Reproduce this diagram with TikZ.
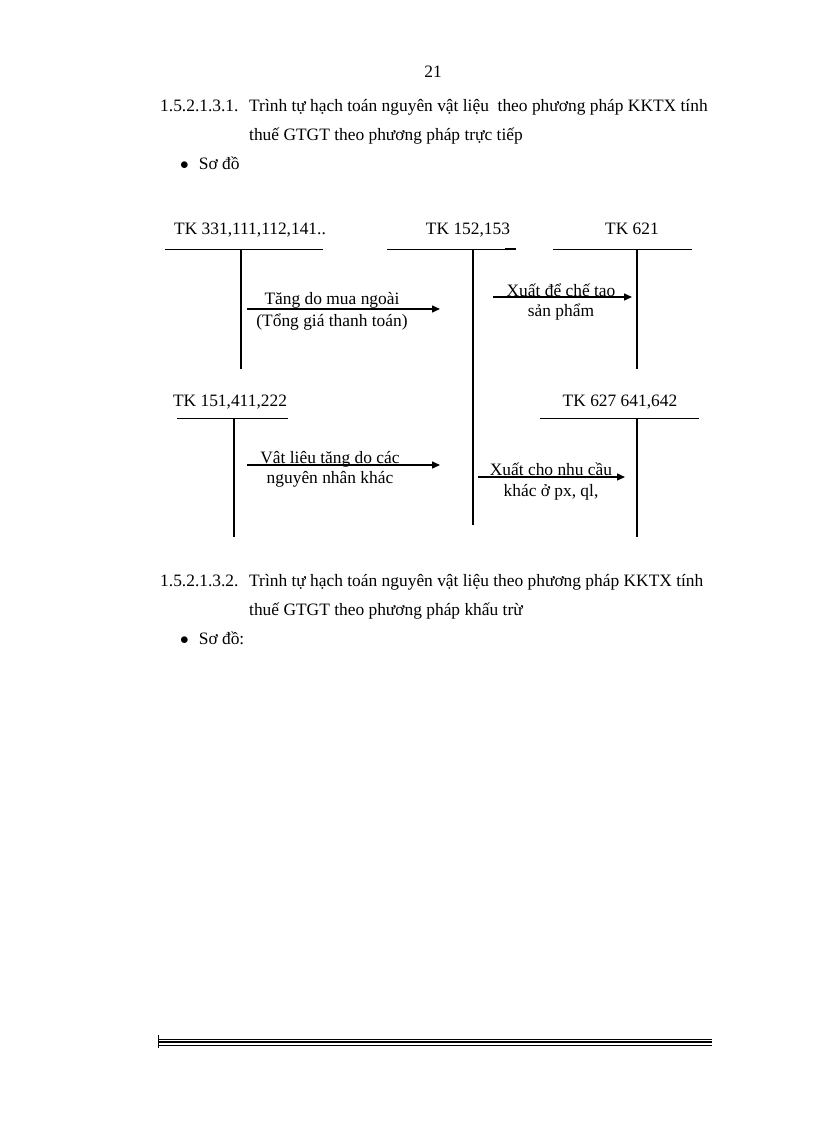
\documentclass[tikz,border=0pt]{standalone}
\usepackage{fontspec}
\setmainfont{Liberation Serif}
\usetikzlibrary{arrows.meta}
\begin{document}
\begin{tikzpicture}[x=1pt,y=-1pt,
  txt/.style={inner sep=0pt,yshift=-4pt,font=\fontsize{17.4}{20}\selectfont},
  acc/.style={line width=0.6pt},
  post/.style={line width=1.4pt},
  arr/.style={line width=1.4pt,-{Triangle[length=8pt,width=7pt]}},
  lbl/.style={txt,align=center,anchor=mid}]
\useasboundingbox (0,0) rectangle (816,1123);
\node[txt,anchor=mid] (pg) at (433,71) {21};
\node[txt,anchor=mid west] (h1n) at (160,105) {1.5.2.1.3.1.};
\node[txt,anchor=mid west] (h1a) at (249,105) {Trình tự hạch toán nguyên vật liệu\ \ theo phương pháp KKTX tính};
\node[txt,anchor=mid west] (h1b) at (249,134) {thuế GTGT theo phương pháp trực tiếp};
\node[txt,anchor=mid west] (b1) at (180,163) {$\bullet$\hspace{10pt}Sơ đồ};
% T accounts
\node[lbl] (l331) at (250,228) {TK 331,111,112,141..};
\draw[acc] (165,249) -- (323,249);
\coordinate (v331t) at (241,249); \coordinate (v331b) at (241,369);
\draw[post] (v331t) -- (v331b);
\node[lbl] (l152) at (468,228) {TK 152,153};
\draw[acc] (387,249) -- (516,249);
\draw[line width=1.2pt] (505,249) -- (516,249);
\coordinate (v152t) at (473,249); \coordinate (v152b) at (473,525);
\draw[post] (v152t) -- (v152b);
\node[lbl] (l621) at (632,228) {TK 621};
\draw[acc] (553,249) -- (692,249);
\coordinate (v621t) at (637,249); \coordinate (v621b) at (637,369);
\draw[post] (v621t) -- (v621b);
\node[lbl] (l151) at (230,400) {TK 151,411,222};
\draw[acc] (177,418) -- (288,418);
\coordinate (v151t) at (234,418); \coordinate (v151b) at (234,537);
\draw[post] (v151t) -- (v151b);
\node[lbl] (l627) at (620,400) {TK 627 641,642};
\draw[acc] (540,418) -- (699,418);
\coordinate (v627t) at (637,418); \coordinate (v627b) at (637,537);
\draw[post] (v627t) -- (v627b);
% arrows
\coordinate (a1s) at (247,309); \coordinate (a1e) at (440,309);
\draw[arr] (a1s) -- (a1e);
\node[lbl] (t1a) at (332,298) {Tăng do mua ngoài};
\node[lbl] (t1b) at (332,320) {(Tổng giá thanh toán)};
\coordinate (a2s) at (493,297); \coordinate (a2e) at (632,297);
\draw[arr] (a2s) -- (a2e);
\node[lbl] (t2a) at (561,290) {Xuất để chế tao};
\node[lbl] (t2b) at (561,310) {sản phẩm};
\coordinate (a3s) at (247,465); \coordinate (a3e) at (440,465);
\draw[arr] (a3s) -- (a3e);
\node[lbl] (t3a) at (330,457) {Vật liệu tăng do các};
\node[lbl] (t3b) at (330,477) {nguyên nhân khác};
\coordinate (a4s) at (478,477); \coordinate (a4e) at (625,477);
\draw[arr] (a4s) -- (a4e);
\node[lbl] (t4a) at (551,469) {Xuất cho nhu cầu};
\node[lbl] (t4b) at (551,490) {khác ở px, ql,};
% second heading
\node[txt,anchor=mid west] (h2n) at (160,580) {1.5.2.1.3.2.};
\node[txt,anchor=mid west] (h2a) at (249,580) {Trình tự hạch toán nguyên vật liệu theo phương pháp KKTX tính};
\node[txt,anchor=mid west] (h2b) at (249,609) {thuế GTGT theo phương pháp khấu trừ};
\node[txt,anchor=mid west] (b2) at (180,638) {$\bullet$\hspace{10pt}Sơ đồ:};
% footer rule
\draw[line width=0.5pt] (158,1039) -- (712,1039);
\draw[line width=1.6pt] (158,1042) -- (712,1042);
\draw[line width=0.5pt] (158,1045) -- (712,1045);
\draw[line width=1pt] (158,1035) -- (158,1048);
\end{tikzpicture}
\end{document}
